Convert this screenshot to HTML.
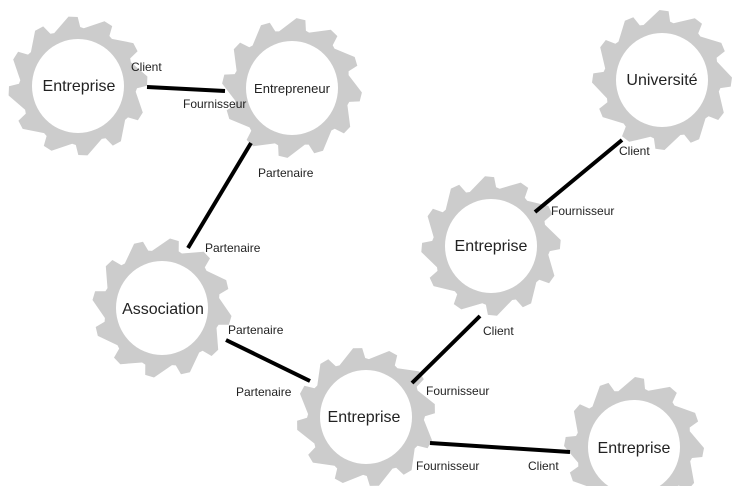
<!DOCTYPE html>
<html><head><meta charset="utf-8"><style>
html,body{margin:0;padding:0;background:#fff;width:741px;height:486px;overflow:hidden}
svg{display:block}
text{font-family:"Liberation Sans",sans-serif;fill:#222}
.n{font-size:16px}
.l{font-size:12px}
</style></head><body>
<svg id="s" width="741" height="486" viewBox="0 0 741 486">
<g id="gears"></g>
<g stroke="#000" stroke-width="4">
<line x1="147" y1="87" x2="225" y2="91"/>
<line x1="251" y1="143" x2="188" y2="248"/>
<line x1="226" y1="340" x2="310" y2="381"/>
<line x1="412" y1="383" x2="480" y2="316"/>
<line x1="535" y1="212" x2="622" y2="140"/>
<line x1="430" y1="443" x2="570" y2="452"/>
</g>
<g id="circ" fill="#fff"></g>
<g class="n" text-anchor="middle">
<text x="79" y="91">Entreprise</text>
<text x="292" y="93" style="font-size:13px">Entrepreneur</text>
<text x="662" y="85">Université</text>
<text x="491" y="251">Entreprise</text>
<text x="163" y="314">Association</text>
<text x="364" y="422">Entreprise</text>
<text x="634" y="453">Entreprise</text>
</g>
<g class="l">
<text x="131" y="71">Client</text>
<text x="183" y="108">Fournisseur</text>
<text x="258" y="177">Partenaire</text>
<text x="205" y="252">Partenaire</text>
<text x="228" y="334">Partenaire</text>
<text x="236" y="396">Partenaire</text>
<text x="426" y="395">Fournisseur</text>
<text x="483" y="335">Client</text>
<text x="551" y="215">Fournisseur</text>
<text x="619" y="155">Client</text>
<text x="416" y="470">Fournisseur</text>
<text x="528" y="470">Client</text>
</g>
</svg>
<script>
var c=[[78,86,0.1],[292,88,0.3],[662,80,0.2],[491,246,0.15],[162,308,0.35],[366,417,0.05],[634,447,0.25]];
var g=document.getElementById('gears'),ci=document.getElementById('circ'),ns='http://www.w3.org/2000/svg';
c.forEach(function(p){
 var N=12,d='',R1=58,R2=70;
 for(var i=0;i<N;i++){
  var a=p[2]+i*2*Math.PI/N,s=2*Math.PI/N;
  var pts=[[a,R1],[a+s*0.55,R2],[a+s*0.8,R2-1],[a+s*0.88,R1+1]];
  pts.forEach(function(q,j){d+=(i==0&&j==0?'M':'L')+(p[0]+q[1]*Math.cos(q[0])).toFixed(1)+','+(p[1]+q[1]*Math.sin(q[0])).toFixed(1)});
 }
 var e=document.createElementNS(ns,'path');e.setAttribute('d',d+'Z');e.setAttribute('fill','#cccccc');g.appendChild(e);
 var k=document.createElementNS(ns,'ellipse');k.setAttribute('cx',p[0]);k.setAttribute('cy',p[1]);k.setAttribute('rx',46);k.setAttribute('ry',47);ci.appendChild(k);
});
</script>
</body></html>
